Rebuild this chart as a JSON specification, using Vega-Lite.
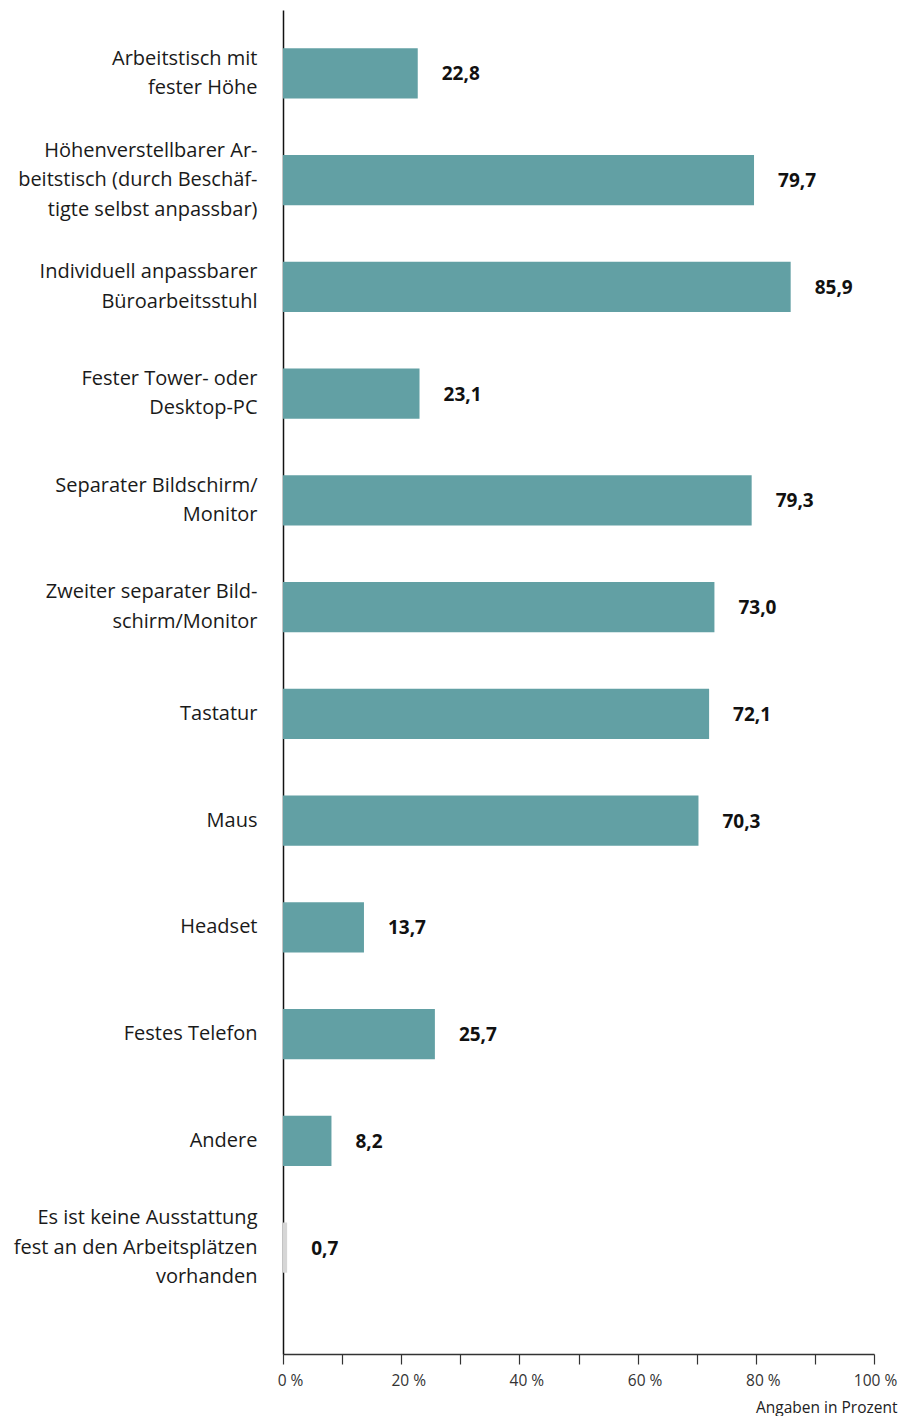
{
  "$schema": "https://vega.github.io/schema/vega-lite/v6.json",
  "autosize": {"type": "none"},
  "padding": {"left": 283, "top": 10, "right": 26, "bottom": 62},
  "width": 591,
  "height": 1344,
  "background": "white",
  "config": {
    "locale": {"number": {"decimal": ",", "thousands": ".", "grouping": [3], "currency": ["", " €"]}},
    "view": {"stroke": null},
    "font": "Open Sans"
  },
  "data": {
    "values": [
      {"label": "Arbeitstisch mit|fester Höhe", "value": 22.8, "gruppe": "Ausstattung"},
      {"label": "Höhenverstellbarer Ar-|beitstisch (durch Beschäf-|tigte selbst anpassbar)", "value": 79.7, "gruppe": "Ausstattung"},
      {"label": "Individuell anpassbarer|Büroarbeitsstuhl", "value": 85.9, "gruppe": "Ausstattung"},
      {"label": "Fester Tower- oder|Desktop-PC", "value": 23.1, "gruppe": "Ausstattung"},
      {"label": "Separater Bildschirm/|Monitor", "value": 79.3, "gruppe": "Ausstattung"},
      {"label": "Zweiter separater Bild-|schirm/Monitor", "value": 73.0, "gruppe": "Ausstattung"},
      {"label": "Tastatur", "value": 72.1, "gruppe": "Ausstattung"},
      {"label": "Maus", "value": 70.3, "gruppe": "Ausstattung"},
      {"label": "Headset", "value": 13.7, "gruppe": "Ausstattung"},
      {"label": "Festes Telefon", "value": 25.7, "gruppe": "Ausstattung"},
      {"label": "Andere", "value": 8.2, "gruppe": "Ausstattung"},
      {"label": "Es ist keine Ausstattung|fest an den Arbeitsplätzen|vorhanden", "value": 0.7, "gruppe": "keine"}
    ]
  },
  "encoding": {
    "y": {
      "field": "label",
      "type": "nominal",
      "sort": null,
      "scale": {"paddingInner": 0.53, "paddingOuter": 0.56, "align": 0.32},
      "axis": {
        "title": null,
        "labelExpr": "split(datum.value, '|')",
        "labelFontSize": 20,
        "labelLineHeight": 29.5,
        "labelColor": "#1a1a1a",
        "labelAlign": "right",
        "labelBaseline": "middle",
        "labelOffset": {
          "condition": [
            {"test": "length(split(datum.value, '|')) == 3", "value": -29.5},
            {"test": "length(split(datum.value, '|')) == 2", "value": -14.75}
          ],
          "value": 0
        },
        "labelPadding": 26,
        "labelLimit": 300,
        "ticks": false,
        "domainColor": "#111111",
        "domainWidth": 1.5
      }
    },
    "x": {
      "field": "value",
      "type": "quantitative",
      "scale": {"domain": [0, 100], "nice": false},
      "axis": {
        "values": [0, 10, 20, 30, 40, 50, 60, 70, 80, 90, 100],
        "labelExpr": "datum.value % 20 == 0 ? datum.value + ' %' : ''",
        "grid": false,
        "labelFontSize": 15.5,
        "labelColor": "#333333",
        "labelPadding": 9,
        "labelOffset": {"condition": {"test": "datum.value == 100", "value": 1}, "value": 7},
        "labelFlush": false,
        "tickSize": 10,
        "tickColor": "#333333",
        "tickWidth": 1.2,
        "domainColor": "#333333",
        "domainWidth": 1.5,
        "title": "Angaben in Prozent",
        "titleFontSize": 15.5,
        "titleFontWeight": "normal",
        "titleColor": "#222222",
        "titleAnchor": "end",
        "titleAlign": "right",
        "titleX": 614,
        "titleY": 61,
        "titleBaseline": "bottom"
      }
    }
  },
  "layer": [
    {
      "mark": {"type": "bar", "cornerRadius": 0},
      "encoding": {
        "color": {
          "field": "gruppe",
          "type": "nominal",
          "scale": {"domain": ["Ausstattung", "keine"], "range": ["#62a0a4", "#d6d6d6"]},
          "legend": null
        }
      }
    },
    {
      "mark": {"type": "text", "align": "left", "baseline": "middle", "dx": 24, "dy": 1, "fontSize": 19, "fontWeight": "bold", "color": "#111111"},
      "encoding": {
        "text": {"field": "value", "type": "quantitative", "format": ".1f"}
      }
    }
  ]
}
